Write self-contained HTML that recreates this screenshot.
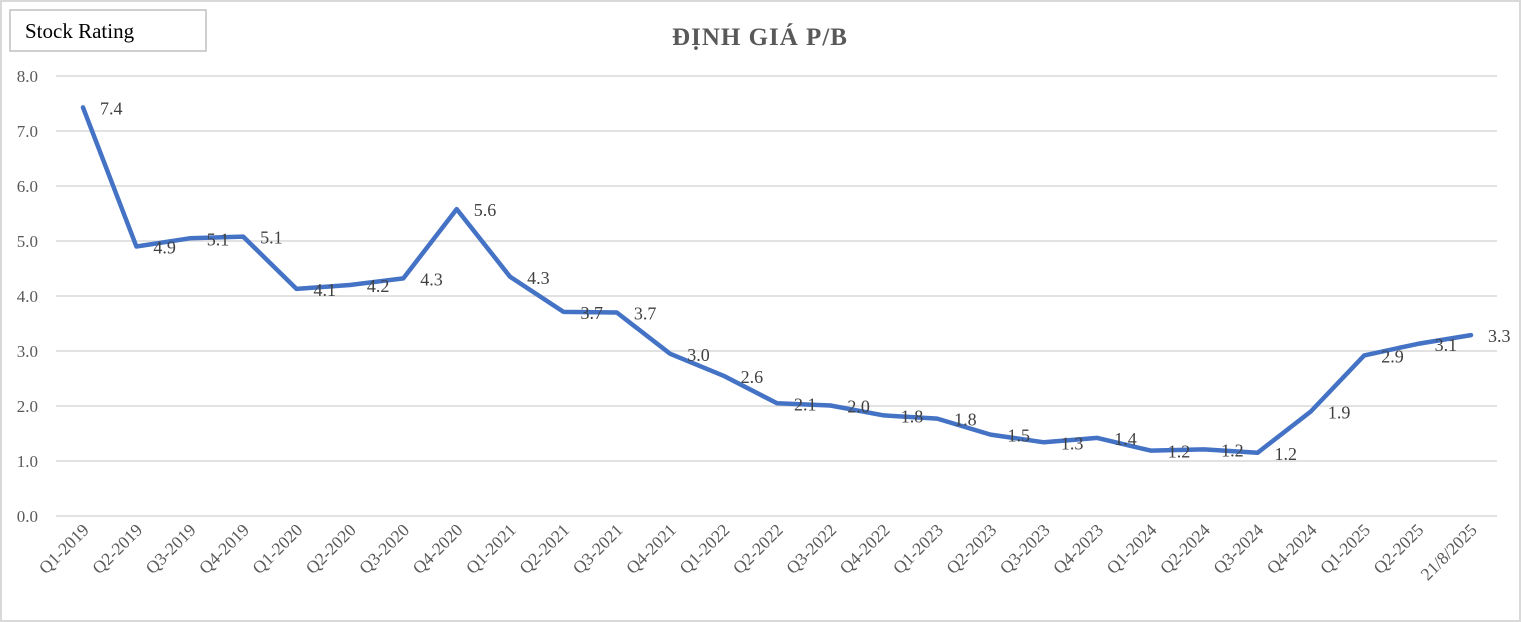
<!DOCTYPE html>
<html><head><meta charset="utf-8"><style>
body{margin:0;background:#fff;}
svg{display:block;font-family:"Liberation Serif",serif;}
</style></head><body>
<svg width="1521" height="622" viewBox="0 0 1521 622">
<rect x="1" y="1" width="1519" height="620" fill="#fff" stroke="#d9d9d9" stroke-width="2"/>
<rect x="10" y="10" width="196" height="41" fill="#fff" stroke="#bfbfbf" stroke-width="1.5"/>
<text x="25" y="38" font-size="21" fill="#000">Stock Rating</text>
<text x="760" y="45" font-size="25" font-weight="bold" fill="#595959" text-anchor="middle" letter-spacing="1">ĐỊNH GIÁ P/B</text>
<g id="grid" stroke="#d9d9d9" stroke-width="1.5"></g>
<g id="ylab" font-size="17" fill="#595959" text-anchor="end"></g>
<g id="xlab" font-size="17.5" fill="#595959"></g>
<polyline id="line" fill="none" stroke="#4472c4" stroke-width="4.5" stroke-linejoin="round" stroke-linecap="round"/>
<g id="dl" font-size="18" fill="#404040"></g>
</svg>
<script>
const ns="http://www.w3.org/2000/svg";
function el(t,a,txt){const e=document.createElementNS(ns,t);for(const k in a)e.setAttribute(k,a[k]);if(txt!=null)e.textContent=txt;return e;}
const g=document.getElementById('grid'),yl=document.getElementById('ylab'),xl=document.getElementById('xlab'),dl=document.getElementById('dl');
const Y=v=>516-v*55;
for(let i=0;i<=8;i++){g.appendChild(el('line',{x1:56,x2:1497,y1:Y(i),y2:Y(i)}));yl.appendChild(el('text',{x:38,y:Y(i)+6},i.toFixed(1)));}
const labs=[];for(let y=2019;y<=2024;y++)for(let q=1;q<=4;q++)labs.push('Q'+q+'-'+y);labs.push('Q1-2025','Q2-2025','21/8/2025');
const vals=[7.43,4.9,5.05,5.08,4.13,4.2,4.32,5.58,4.35,3.71,3.70,2.95,2.55,2.05,2.01,1.83,1.77,1.48,1.34,1.42,1.19,1.21,1.15,1.9,2.92,3.13,3.29];
const shown=['7.4','4.9','5.1','5.1','4.1','4.2','4.3','5.6','4.3','3.7','3.7','3.0','2.6','2.1','2.0','1.8','1.8','1.5','1.3','1.4','1.2','1.2','1.2','1.9','2.9','3.1','3.3'];
const X=i=>83+i*(1471-83)/26;
let pts=[];
vals.forEach((v,i)=>{const x=X(i),y=Y(v);pts.push(x.toFixed(1)+','+y.toFixed(1));
 dl.appendChild(el('text',{x:x+17,y:y+7},shown[i]));
 const t=el('text',{x:0,y:0,'text-anchor':'end',transform:`translate(${x+7},${531}) rotate(-45)`},labs[i]);xl.appendChild(t);
});
document.getElementById('line').setAttribute('points',pts.join(' '));
</script>
</body></html>
